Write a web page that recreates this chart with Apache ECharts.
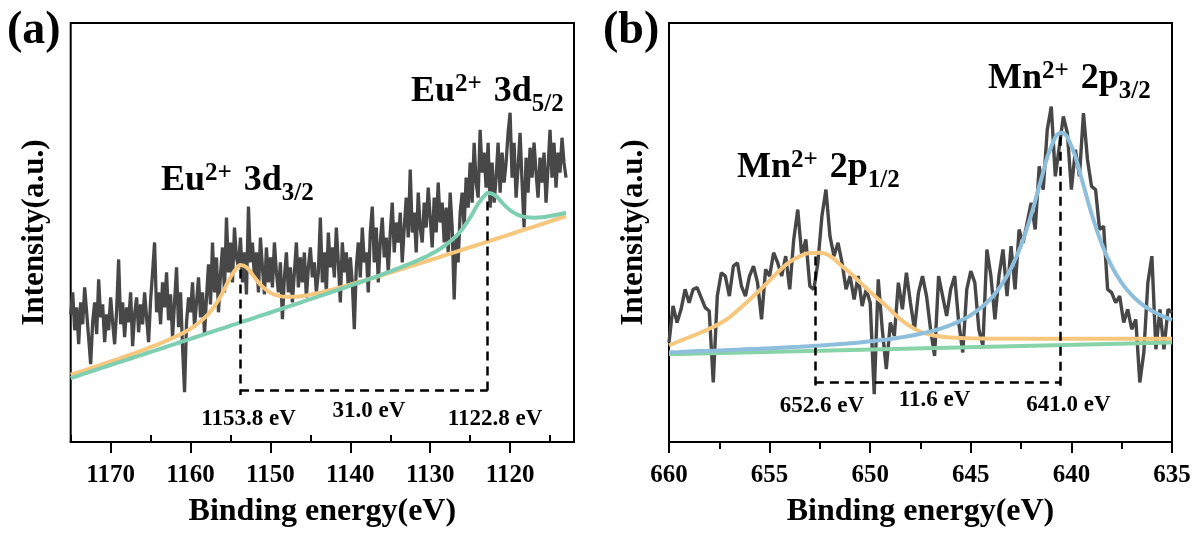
<!DOCTYPE html>
<html><head><meta charset="utf-8">
<script src="https://cdn.jsdelivr.net/npm/echarts@6/dist/echarts.min.js"></script>
<style>html,body{margin:0;padding:0;background:#fff;}#c{width:1197px;height:533px;}</style>
</head><body><div id="c"></div>
<script>
const FONT = "'Liberation Serif','Times New Roman',serif";

// ---------- Panel (a): Eu 3d ----------
const euStart = 1175, euStep = 0.25;
const euCounts = [
128,150,112,135, 98,140,118,155, 130,104,78,120, 140,108,163,125, 138,100,128,112,
145,120,98,132, 183,118,140,105, 135,120,150,96, 128,145,110,138, 118,150,125,100,
142,170,200,130, 150,118,160,135, 170,122,148,105, 140,175,115,150, 95,50,120,145,
130,160,115,140, 165,125,150,108, 145,178,138,200, 150,185,130,168, 195,150,225,170,
200,160,215,185, 175,205,160,190, 148,236,180,200, 165,190,150,205, 175,148,195,160,
185,155,200,170, 150,180,123,165, 190,150,175,140, 170,200,155,185, 160,190,145,175,
195,165,180,150, 170,225,160,190, 150,210,175,195, 165,215,180,140, 200,170,190,155,
185,160,113,175, 200,165,215,180, 190,150,210,236, 180,215,160,200, 225,185,205,170,
210,240,190,220, 200,230,180,215, 245,205,273,210, 230,190,250,215, 200,240,215,255,
225,195,245,210, 260,220,240,200, 235,190,250,215, 143,205,180,230, 250,215,265,235,
280,240,300,260, 245,313,270,290, 255,300,235,280, 240,265,300,250, 290,260,280,310,
330,265,300,245, 275,310,260,215, 285,250,295,265, 300,270,245,285, 260,290,240,275,
313,265,300,255, 290,270,305,280, 265
];
const fitEnergyA = [1175,1174,1173,1172,1171,1170,1169,1168,1167,1166,1165,1164,1163,1162,1161,1160,
1159,1158,1157,1156,1155,1154,1153.8,1153,1152,1151,1150,1149,1148,1147,1146,1145,1144,1143,1142,1141,
1140,1139,1138,1137,1136,1135,1134,1133,1132,1131,1130,1129,1128,1127,1126,1125,1124,1123,1122.8,1122,
1121,1120,1119,1118,1117,1116,1115,1114,1113];
const fit3d32 = [67.4,70.0,72.6,75.3,78.0,80.7,83.4,86.2,89.0,91.9,95.0,98.1,101.5,105.1,109.0,113.6,
119.3,126.4,136.1,149.5,165.2,176.5,177.4,175.1,165.1,155.7,149.7,146.6,145.5,145.5,146.4,147.7,149.4,
151.3,153.3,155.5,157.8,160.1,162.5,164.9,167.3,169.8,172.3,174.8,177.3,179.9,182.4,184.9,187.6,190.1,
192.7,195.2,197.8,200.4,201.0,203.0,205.6,208.2,210.8,213.3,215.9,218.5,221.2,223.8,226.4];
const fit3d52 = [64.0,66.6,69.3,71.9,74.6,77.2,79.8,82.4,85.0,87.6,90.3,92.9,95.5,98.2,100.8,103.4,
106.1,108.7,111.3,113.9,116.6,119.2,120.0,121.9,124.5,127.2,129.8,132.5,135.1,137.7,140.5,143.2,145.9,
148.5,151.2,153.9,156.8,159.5,162.3,165.1,168.0,171.0,174.1,177.2,180.6,184.1,188.0,192.5,197.9,204.6,
213.3,225.0,238.7,248.7,249.5,247.9,239.9,232.3,227.7,225.4,224.9,225.3,226.5,228.0,229.8];
const ticksA = [1170,1160,1150,1140,1130,1120];
const minorTicksA = [1175,1165,1155,1145,1135,1125,1115];

// ---------- Panel (b): Mn 2p ----------
const mnStart = 660, mnStep = 0.2;
const mnCounts = [
99.7,136.3,119.7,133,153,139.7,153,154.7,144.7,134.7,131.3,59.7,146.3,169.7,166.3,146.3,176.3,179.7,156.3,146.3,
166.3,176.3,159.7,123,173,166.3,189.7,179.7,166.3,186.3,153,203,233,186.3,203,156.3,153,179.7,226.3,253,
206.3,186.3,199.7,179.7,153,166.3,143,166.3,136.3,153,139.7,48,163,113,73,119.7,106.3,159.7,133,169.7,
139.7,113,149.7,166.3,146.3,113,86.3,166.3,146.3,126.3,153,166.3,119.7,89.7,153,171.3,159.7,113,96.3,193,
166.3,123,166.3,193,146.3,196.3,153,213,199.7,219.7,239.7,213,276.3,253,313,336.3,266.3,296.3,326.3,309.7,
253,293,266.3,329.7,283,256.3,253,213,216.3,153,149.7,139.7,146.3,119.7,133,113,123,59.7,89.7,159.7,
186.3,93,133,93,133,130
];
const fitEnergyB = [660,659.5,659,658.5,658,657.5,657,656.5,656,655.5,655,654.5,654,653.5,653,652.5,652,
651.5,651,650.5,650,649.5,649,648.5,648,647.5,647,646.5,646,645.5,645,644.5,644,643.5,643,642.5,642,641.5,
641,640.5,640,639.5,639,638.5,638,637.5,637,636.5,636,635.5,635];
const fit2p12 = [96.8,101,105,109,113.5,118.5,125,133.5,142.5,152,162,172,180.5,186,189.5,189.8,186.5,
178,169.5,160,150.5,141.5,132.5,123,116,110.5,107.5,105.7,104.8,104.2,103.9,103.7,103.6,103.5,103.5,103.5,
103.5,103.5,103.5,103.5,103.5,103.5,103.5,103.5,103.5,103.5,103.5,103.5,103.5,103.5,103.5];
const fit2p32 = [90.0,90.3,90.7,91.1,91.4,91.8,92.2,92.6,93.1,93.5,93.9,94.5,95.0,95.5,96.1,96.7,97.4,
98.2,99.0,99.8,100.9,102.0,103.3,104.8,106.5,108.5,110.9,113.7,117.3,121.7,127.2,134.5,144.0,156.7,174.0,
197.2,227.6,263.5,296.1,310.1,296.6,264.4,229.0,199.1,176.3,159.6,147.3,138.2,131.5,126.4,122.4];
const baseEnergyB = [660,635];
const baseB = [88.0,99.7];

// peak markers (energy, top intensity) and separation line level
const euPeaks = [[1153.8,173],[1122.8,241]], euSepLevel = 52, euDropTo = 47;
const mnPeaks = [[652.75,186],[640.55,306]], mnSepLevel = 59.7, mnDropTo = 55;

const pairs = (xs, ys) => ys.map((v,i)=>[xs[i], v]);
const euEnergy = euCounts.map((_,i)=> +(euStart - i*euStep).toFixed(2));
const mnEnergy = mnCounts.map((_,i)=> +(mnStart - i*mnStep).toFixed(2));

const dashStyle = {type:[9,6], color:'#000', width:2.5};
function dashLines(peaks, level, drop){
  return [
    [{coord:[peaks[0][0], peaks[0][1]]},{coord:[peaks[0][0], drop]}],
    [{coord:[peaks[1][0], peaks[1][1]]},{coord:[peaks[1][0], drop]}],
    [{coord:[peaks[0][0], level]},{coord:[peaks[1][0], level]}]
  ];
}

const axisFont = {fontFamily:FONT, fontWeight:'bold', color:'#000'};
const plainNum = v => String(v);
function xAxisMain(grid, min, max, extra){
  return Object.assign({
    gridIndex:grid, type:'value', inverse:true, min:min, max:max,
    axisLine:{show:true, onZero:false, lineStyle:{color:'#000', width:2}},
    axisTick:{show:true, length:11, lineStyle:{color:'#000', width:2}},
    axisLabel:Object.assign({fontSize:25, margin:21, showMinLabel:true, showMaxLabel:true, formatter:plainNum}, axisFont),
    splitLine:{show:false},
    name:'Binding energy(eV)', nameLocation:'middle', nameGap:54,
    nameTextStyle:Object.assign({fontSize:32}, axisFont)
  }, extra);
}
function yAxisDef(grid){
  return {gridIndex:grid, type:'value', min:0, max:420,
    axisLine:{show:false}, axisTick:{show:false}, axisLabel:{show:false}, splitLine:{show:false},
    name:'Intensity(a.u.)', nameLocation:'middle', nameGap:20,
    nameTextStyle:Object.assign({fontSize:31}, axisFont)};
}

const lineBase = {type:'line', showSymbol:false, symbol:'none', silent:true, animation:false};
const richBase = {
  m:{fontSize:36, fontWeight:'bold', fontFamily:FONT, fill:'#000', lineHeight:60},
  sup:{fontSize:25, fontWeight:'bold', fontFamily:FONT, fill:'#000', lineHeight:60, padding:[0,3,14,0]},
  sub:{fontSize:25, fontWeight:'bold', fontFamily:FONT, fill:'#000', lineHeight:60, padding:[25,0,0,0]}
};
function peakLabel(txt, x, y){
  return {type:'text', x:x, y:y, z:100, style:{text:txt, verticalAlign:'middle', align:'left', rich:richBase}};
}
function smallLabel(txt, x, y){
  return {type:'text', x:x, y:y, z:100, style:{text:txt, align:'center', verticalAlign:'middle',
    fontSize:23, fontWeight:'bold', fontFamily:FONT, fill:'#000'}};
}

const option = {
  backgroundColor:'#fff',
  animation:false,
  grid:[
    {left:70.7, top:23, width:503.3, height:420, show:true, borderColor:'#000', borderWidth:2},
    {left:669, top:23, width:503, height:420, show:true, borderColor:'#000', borderWidth:2}
  ],
  xAxis:[
    xAxisMain(0, 1112, 1175, {axisTick:{show:true, length:11, customValues:ticksA, lineStyle:{color:'#000', width:2}},
      axisLabel:Object.assign({fontSize:25, margin:21, customValues:ticksA, formatter:plainNum}, axisFont)}),
    {gridIndex:0, type:'value', inverse:true, min:1112, max:1175,
      axisLine:{show:false}, axisLabel:{show:false}, splitLine:{show:false},
      axisTick:{show:true, length:7, customValues:minorTicksA, lineStyle:{color:'#000', width:2}}},
    xAxisMain(1, 635, 660, {interval:5,
      minorTick:{show:true, splitNumber:2, length:7, lineStyle:{color:'#000', width:2}}})
  ],
  yAxis:[yAxisDef(0), yAxisDef(1)],
  series:[
    Object.assign({}, lineBase, {name:'Eu raw', xAxisIndex:0, yAxisIndex:0, data:pairs(euEnergy, euCounts),
      lineStyle:{color:'#474747', width:3.3}, z:2}),
    Object.assign({}, lineBase, {name:'Eu 3d3/2 fit', xAxisIndex:0, yAxisIndex:0, smooth:true, data:pairs(fitEnergyA, fit3d32),
      lineStyle:{color:'#F6C77D', width:4}, z:3}),
    Object.assign({}, lineBase, {name:'Eu 3d5/2 fit', xAxisIndex:0, yAxisIndex:0, smooth:true, data:pairs(fitEnergyA, fit3d52),
      lineStyle:{color:'#7ECFB1', width:4}, z:4,
      markLine:{silent:true, symbol:'none', animation:false, label:{show:false}, lineStyle:dashStyle,
        data:dashLines(euPeaks, euSepLevel, euDropTo)}}),
    Object.assign({}, lineBase, {name:'Mn raw', xAxisIndex:2, yAxisIndex:1, data:pairs(mnEnergy, mnCounts),
      lineStyle:{color:'#474747', width:3.4}, z:2}),
    Object.assign({}, lineBase, {name:'Mn base', xAxisIndex:2, yAxisIndex:1, data:pairs(baseEnergyB, baseB),
      lineStyle:{color:'#88D3A8', width:4}, z:3}),
    Object.assign({}, lineBase, {name:'Mn 2p1/2 fit', xAxisIndex:2, yAxisIndex:1, smooth:true, data:pairs(fitEnergyB, fit2p12),
      lineStyle:{color:'#F6C77D', width:4}, z:4}),
    Object.assign({}, lineBase, {name:'Mn 2p3/2 fit', xAxisIndex:2, yAxisIndex:1, smooth:true, data:pairs(fitEnergyB, fit2p32),
      lineStyle:{color:'#8DBFDC', width:4}, z:5,
      markLine:{silent:true, symbol:'none', animation:false, label:{show:false}, lineStyle:dashStyle,
        data:dashLines(mnPeaks, mnSepLevel, mnDropTo)}})
  ],
  graphic:[
    {type:'text', x:7, y:31, z:100, style:{text:'(a)', fontSize:46, fontWeight:'bold', fontFamily:FONT, fill:'#000', verticalAlign:'middle'}},
    {type:'text', x:603, y:31, z:100, style:{text:'(b)', fontSize:46, fontWeight:'bold', fontFamily:FONT, fill:'#000', verticalAlign:'middle'}},
    peakLabel('{m|Eu}{sup|2+}{m| 3d}{sub|3/2}', 161, 181),
    peakLabel('{m|Eu}{sup|2+}{m| 3d}{sub|5/2}', 411, 92),
    peakLabel('{m|Mn}{sup|2+}{m| 2p}{sub|1/2}', 737, 168),
    peakLabel('{m|Mn}{sup|2+}{m| 2p}{sub|3/2}', 988, 79),
    smallLabel('1153.8 eV', 248.6, 419),
    smallLabel('31.0 eV', 369, 411),
    smallLabel('1122.8 eV', 495, 419),
    smallLabel('652.6 eV', 822, 406),
    smallLabel('11.6 eV', 934.5, 400),
    smallLabel('641.0 eV', 1068.5, 405)
  ]
};
const chart = echarts.init(document.getElementById('c'), null, {renderer:'canvas'});
chart.setOption(option);
</script></body></html>
